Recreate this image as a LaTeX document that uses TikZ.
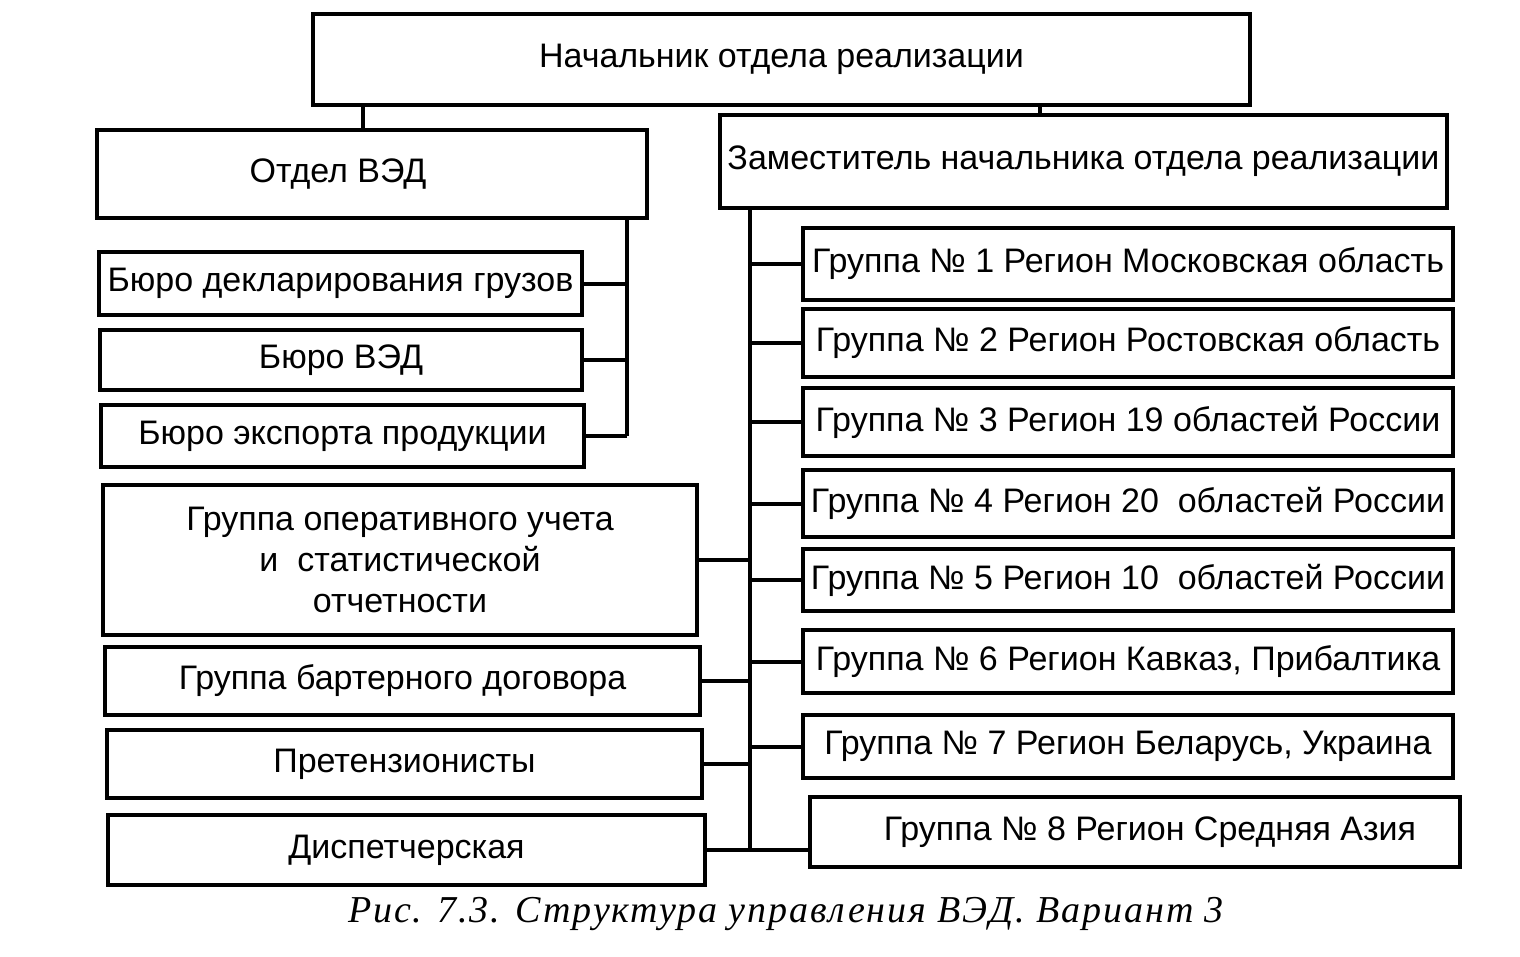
\documentclass[tikz,border=0pt]{standalone}
\usepackage{fontspec}
\setmainfont{Liberation Sans}
\newfontfamily\capfont[LetterSpace=5]{Liberation Serif}
\begin{document}
\begin{tikzpicture}[x=1pt,y=-1pt,
  box/.style={draw, line width=4pt, rectangle, inner sep=0pt, align=center,
    font=\fontsize{34}{41}\selectfont},
  link/.style={line width=4pt}]
\useasboundingbox (0,0) rectangle (1520,956);
\node[box, minimum width=937, minimum height=91] (top) at (781.5,59.5) {Начальник отдела реализации};
\node[box, minimum width=550, minimum height=88] (otd) at (372,174) {\hspace*{-68pt}Отдел ВЭД};
\node[box, minimum width=727, minimum height=93] (zam) at (1083.5,161.5) {Заместитель начальника отдела реализации};
\node[box, minimum width=483, minimum height=63] (b1) at (340.5,283.5) {Бюро декларирования грузов};
\node[box, minimum width=482, minimum height=60] (b2) at (341,360) {Бюро ВЭД};
\node[box, minimum width=483, minimum height=62] (b3) at (342.5,436) {Бюро экспорта продукции};
\node[box, minimum width=594, minimum height=150] (gop) at (400,560) {Группа оперативного учета\\ и\ \ статистической\\ отчетности};
\node[box, minimum width=595, minimum height=68] (bart) at (402.5,681) {Группа бартерного договора};
\node[box, minimum width=595, minimum height=68] (pret) at (404.5,764) {Претензионисты};
\node[box, minimum width=597, minimum height=70] (disp) at (406.5,850) {Диспетчерская};
\node[box, minimum width=650, minimum height=72] (g1) at (1128,264) {Группа № 1 Регион Московская область};
\node[box, minimum width=650, minimum height=68] (g2) at (1128,343) {Группа № 2 Регион Ростовская область};
\node[box, minimum width=650, minimum height=68] (g3) at (1128,422) {Группа № 3 Регион 19 областей России};
\node[box, minimum width=650, minimum height=67] (g4) at (1128,503.5) {Группа № 4 Регион 20\ \ областей России};
\node[box, minimum width=650, minimum height=62] (g5) at (1128,580) {Группа № 5 Регион 10\ \ областей России};
\node[box, minimum width=650, minimum height=63] (g6) at (1128,661.5) {Группа № 6 Регион Кавказ, Прибалтика};
\node[box, minimum width=650, minimum height=63] (g7) at (1128,746.5) {Группа № 7 Регион Беларусь, Украина};
\node[box, minimum width=650, minimum height=70] (g8) at (1135,832) {\hspace*{30pt}Группа № 8 Регион Средняя Азия};
\node[font=\capfont\itshape\fontsize{38}{44}\selectfont] (cap) at (786,914) {Рис. 7.3. Структура управления ВЭД. Вариант 3};
% top connectors
\coordinate (ta) at (363,0);
\coordinate (tb) at (1040,0);
\draw[link] (top.south -| ta) -- (otd.north -| ta);
\draw[link] (top.south -| tb) -- (zam.north -| tb);
% left bracket
\coordinate (br) at (627,0);
\draw[link] (otd.south -| br) -- (b3.east -| br);
\draw[link] (b1.east) -- (b1.east -| br);
\draw[link] (b2.east) -- (b2.east -| br);
\draw[link] (b3.east) -- (b3.east -| br);
% trunk
\coordinate (tr) at (750,0);
\draw[link] (zam.south -| tr) -- (disp.east -| tr);
\foreach \g in {g1,g2,g3,g4,g5,g6,g7}{\draw[link] (\g.west -| tr) -- (\g.west);}
\draw[link] (disp.east) -- (disp.east -| g8.west);
\foreach \b in {gop,bart,pret}{\draw[link] (\b.east) -- (\b.east -| tr);}
\end{tikzpicture}
\end{document}
